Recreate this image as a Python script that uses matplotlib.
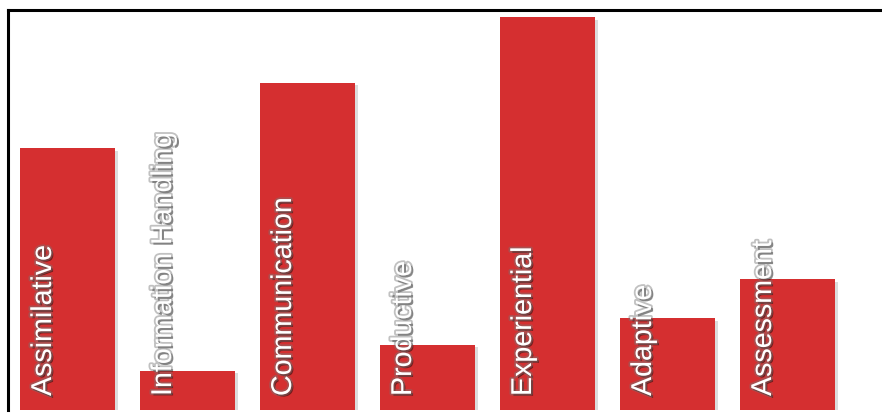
import numpy as np
import matplotlib
matplotlib.use('Agg')
import matplotlib.pyplot as plt
import matplotlib.patheffects as pe

categories = ['Assimilative', 'Information Handling', 'Communication', 'Productive',
              'Experiential', 'Adaptive', 'Assessment']
values = [20, 3, 25, 5, 30, 7, 10]

bar_color = '#d52f30'
width = 95 / 120.

fig = plt.figure(figsize=(8.82, 4.14), dpi=100)
ax = fig.add_axes([8 / 882., 3 / 414., 1 - 8 / 882., 400 / 414.])

x = np.arange(len(categories))
bars = ax.bar(x, values, width=width, color=bar_color, zorder=2)
for b in bars:
    b.set_path_effects([pe.SimplePatchShadow(offset=(2, -2), shadow_rgbFace='#777777', alpha=0.25),
                        pe.Normal()])

for xi, lab in zip(x, categories):
    ax.annotate(lab, xy=(xi - width / 2, 0), xytext=(9, 14), textcoords='offset pixels',
                rotation=90, ha='left', va='bottom', color='white',
                fontsize=20.6, family='Liberation Sans', zorder=3,
                path_effects=[pe.SimplePatchShadow(offset=(1.5, -1.5), shadow_rgbFace='black', alpha=0.45),
                              pe.Stroke(linewidth=2.6, foreground='#777777', alpha=0.45),
                              pe.Normal()])

ax.set_xlim(-(67.5 - 8) / 120., -(67.5 - 8) / 120. + 874 / 120.)
ax.set_ylim(0, 400 / 13.1)
ax.set_xticks([])
ax.set_yticks([])
for s in ['right', 'bottom']:
    ax.spines[s].set_visible(False)
for s in ['top', 'left']:
    ax.spines[s].set_linewidth(2.2)
    ax.spines[s].set_color('black')

fig.savefig('out.png', dpi=100, facecolor='white')
